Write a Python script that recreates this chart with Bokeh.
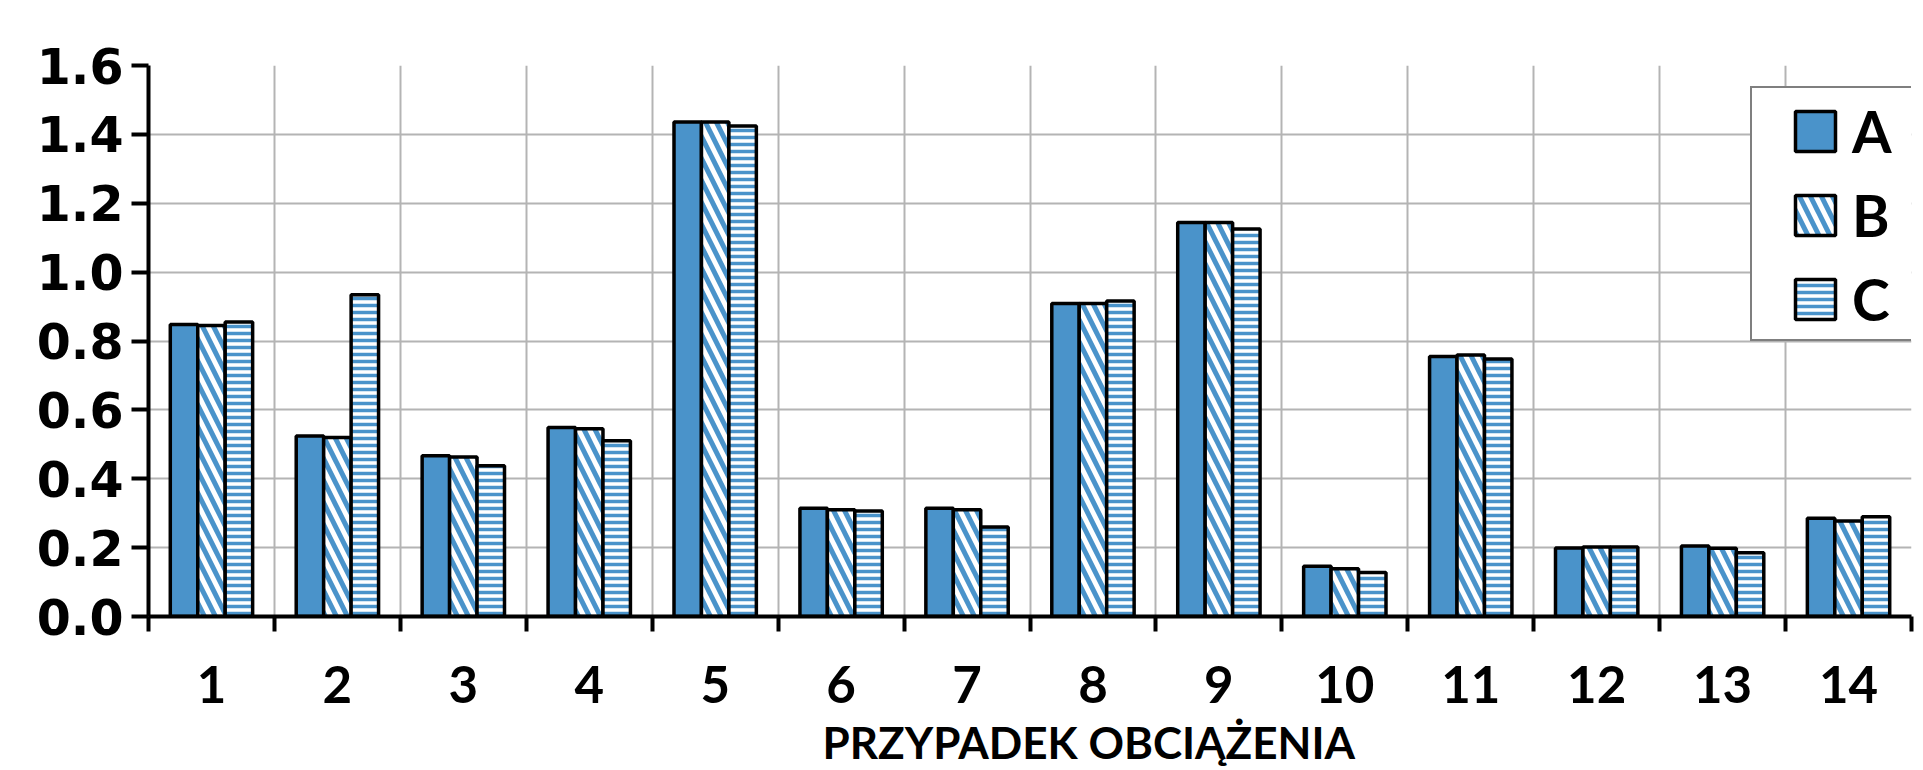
from bokeh.plotting import figure
from bokeh.models import (ColumnDataSource, FixedTicker, Legend, LegendItem,
                          NumeralTickFormatter, Range1d)
from bokeh.transform import dodge
from bokeh.embed import file_html
from bokeh.resources import INLINE

# ---- data ----
cases = [1, 2, 3, 4, 5, 6, 7, 8, 9, 10, 11, 12, 13, 14]
series_a = [0.848, 0.524, 0.467, 0.549, 1.436, 0.314, 0.314, 0.909, 1.144, 0.146, 0.755, 0.199, 0.205, 0.285]
series_b = [0.845, 0.520, 0.463, 0.545, 1.436, 0.310, 0.310, 0.909, 1.144, 0.139, 0.759, 0.202, 0.198, 0.277]
series_c = [0.855, 0.934, 0.438, 0.510, 1.424, 0.306, 0.260, 0.916, 1.125, 0.128, 0.748, 0.202, 0.185, 0.290]
series_names = ["A", "B", "C"]
y_ticks = [0.0, 0.2, 0.4, 0.6, 0.8, 1.0, 1.2, 1.4, 1.6]
x_title = "PRZYPADEK OBCIĄŻENIA"

BLUE = "#4a93ca"
SANS = "Lato"
BAR_W = 0.218

src = ColumnDataSource(dict(x=cases, a=series_a, b=series_b, c=series_c))

p = figure(width=1923, height=770, x_range=Range1d(0.5, 14.5), y_range=Range1d(0, 1.6),
           output_backend="svg", toolbar_location=None,
           min_border_left=148, min_border_right=12, min_border_top=65, min_border_bottom=154)
p.outline_line_color = None
p.background_fill_color = "white"
p.border_fill_color = "white"

rA = p.vbar(x=dodge("x", -BAR_W, range=p.x_range), top="a", width=BAR_W, source=src,
            fill_color=BLUE, line_color="black", line_width=3.5)
rB = p.vbar(x=dodge("x", 0.0, range=p.x_range), top="b", width=BAR_W, source=src,
            fill_color="white", hatch_pattern="\\", hatch_color=BLUE, hatch_scale=22, hatch_weight=5,
            line_color="black", line_width=3.5)
rC = p.vbar(x=dodge("x", BAR_W, range=p.x_range), top="c", width=BAR_W, source=src,
            fill_color="white", hatch_pattern="-", hatch_color=BLUE, hatch_scale=7, hatch_weight=3.5,
            line_color="black", line_width=3.5)

boundaries = [c - 0.5 for c in cases] + [cases[-1] + 0.5]

# x axis
xa = p.xaxis[0]
xa.ticker = FixedTicker(ticks=cases, minor_ticks=boundaries)
xa.axis_line_width = 4
xa.axis_line_color = "black"
xa.major_tick_line_color = None
xa.major_tick_out = 0
xa.major_tick_in = 0
xa.minor_tick_out = 15
xa.minor_tick_in = 0
xa.minor_tick_line_width = 4
xa.minor_tick_line_color = "black"
xa.major_label_text_font = SANS
xa.major_label_text_font_size = "51px"
xa.major_label_text_font_style = "bold"
xa.major_label_text_color = "black"
xa.major_label_standoff = 34
# axis title, shifted right of the frame centre as in the reference
xa.axis_label = "\u00a0" * 11 + x_title
xa.axis_label_standoff = 10
xa.axis_label_text_font = SANS
xa.axis_label_text_font_size = "44px"
xa.axis_label_text_font_style = "bold"
xa.axis_label_text_color = "black"

# y axis
ya = p.yaxis[0]
ya.ticker = FixedTicker(ticks=y_ticks, minor_ticks=[])
ya.formatter = NumeralTickFormatter(format="0.0")
ya.axis_line_width = 4
ya.axis_line_color = "black"
ya.major_tick_out = 17
ya.major_tick_in = 0
ya.major_tick_line_width = 4
ya.major_tick_line_color = "black"
ya.minor_tick_line_color = None
ya.major_label_text_font = "DejaVu Sans"
ya.major_label_text_font_size = "49px"
ya.major_label_text_font_style = "bold"
ya.major_label_text_color = "black"
ya.major_label_standoff = 8

# grid
p.xgrid.ticker = FixedTicker(ticks=boundaries)
for g in (p.xgrid, p.ygrid):
    g.grid_line_color = "#b4b4b4"
    g.grid_line_width = 2

# invisible helper renderer for the legend frame
dummy = p.vbar(x=[], top=[], width=0.1, fill_alpha=0, line_alpha=0)

# legend box (frame only)
box = Legend(items=[LegendItem(label=" ", renderers=[dummy])], location=(1602, 275),
             padding=0, spacing=0, margin=0, glyph_width=400, glyph_height=251,
             label_width=1, label_height=1, label_text_font_size="1px", label_standoff=0,
             border_line_color="black", border_line_width=2,
             background_fill_color="white", background_fill_alpha=1.0)
p.add_layout(box)

leg = Legend(items=[LegendItem(label=n, renderers=[r]) for n, r in zip(series_names, [rA, rB, rC])],
             location=(1642, 281), padding=0, spacing=12, margin=0,
             glyph_width=50, glyph_height=50, label_height=72, label_standoff=12,
             label_text_font=SANS, label_text_font_size="57px", label_text_font_style="bold",
             label_text_color="black",
             border_line_color=None, background_fill_alpha=0.0)
p.add_layout(leg)

open("out.html", "w").write(file_html(p, INLINE))
